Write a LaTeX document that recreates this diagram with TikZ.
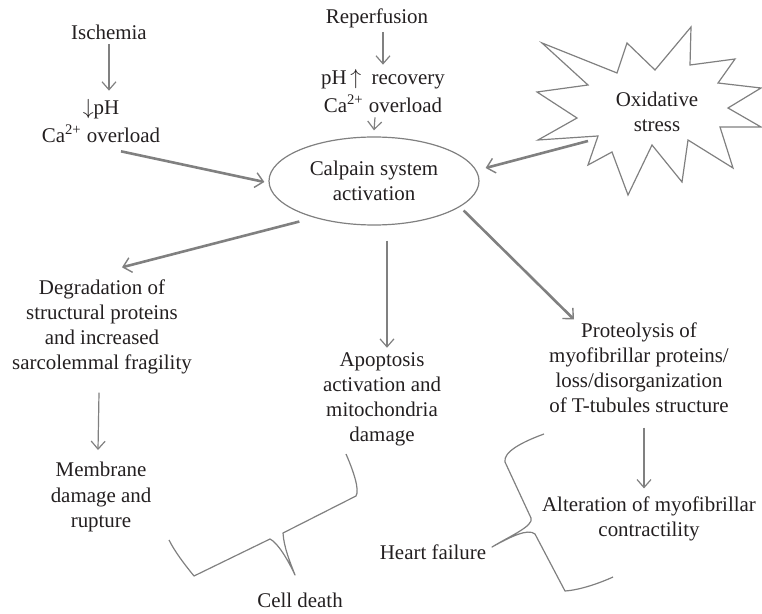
\documentclass[tikz,border=0pt]{standalone}
\usepackage{fontspec}
\setmainfont{Liberation Serif}
\usepackage{xcolor}
\usetikzlibrary{shapes.geometric,arrows.meta}
\definecolor{linegray}{RGB}{128,128,128}
\definecolor{textgray}{RGB}{35,31,32}

\begin{document}
\begin{tikzpicture}[x=0.5bp,y=-0.5bp,
  every node/.style={text=textgray,font=\fontsize{10.5}{12.6}\selectfont,align=center,inner sep=2bp},
  thinarrow/.style={draw=linegray,line width=0.6bp,-{Straight Barb[length=4bp,width=7bp]}},
  thickarrow/.style={draw=linegray,line width=1.3bp,-{Straight Barb[length=4bp,width=7.5bp,line width=0.7bp]}},
  outline/.style={draw=linegray,line width=0.6bp},
  brace/.style={draw=linegray,line width=0.6bp,line join=round}]
\useasboundingbox (0,0) rectangle (762,614);

% causes
\node (isch) at (109,32) {Ischemia};
\node (ph) at (101,121) {$\downarrow$pH\\[1.7bp]Ca\textsuperscript{2+} overload};
\node (reperf) at (377,18) {Reperfusion};
\node (rec) at (383,91) {pH\,$\uparrow$\ \ recovery\\[1.7bp]Ca\textsuperscript{2+} overload};
\draw[outline] (691,27) -- (690,65) -- (735,59) -- (718,83) -- (761,88) -- (728,108)
  -- (761,127) -- (720,127) -- (733,168) -- (688,140) -- (682,182) -- (652,145)
  -- (628,195) -- (612,152) -- (588,165) -- (598,136) -- (538,140) -- (577,118)
  -- (537,92) -- (588,85) -- (542,43) -- (617,73) -- (627,43) -- (655,70) -- cycle;
\node (oxid) at (657,112) {Oxidative\\stress};
\coordinate (oxtail) at (588,141);

% calpain
\node[ellipse,outline,minimum width=105bp,minimum height=44bp,inner sep=0pt] (calpain) at (374,181) {Calpain system\\activation};

% effects
\node (degr) at (102,327) {Degradation of\\structural proteins\\and increased\\sarcolemmal fragility};
\node (memb) at (101,497) {Membrane\\damage and\\rupture};
\node (apop) at (382,399) {Apoptosis\\activation and\\mitochondria\\damage};
\node (prot) at (639,368) {Proteolysis of\\myofibrillar proteins/\\loss/disorganization\\of T-tubules structure};
\node (alter) at (649,519) {Alteration of myofibrillar\\contractility};
\node (heart) at (433,552) {Heart failure};
\node (death) at (300,600) {Cell death};

\draw[thinarrow,shorten >=2bp] (isch) -- (isch |- ph.north);
\draw[thickarrow] ([shift={(20,4)}]ph.south) -- ([shift={(-4,1)}]calpain.west);
\draw[thinarrow] (reperf.south -| rec.north) -- (rec.north);
\draw[thinarrow] ([xshift=-4bp]rec.south) -- ([yshift=3bp]calpain.north);
\draw[thickarrow] (oxtail) -- ([shift={(6,-13)}]calpain.east);
\draw[thickarrow] ([yshift=-4.5bp]calpain.south west) -- ([shift={(20,-8)}]degr.north);
\draw[thinarrow] ([xshift=2.5bp]apop.north |- calpain.south) ++(0,15) -- ([xshift=2.5bp]apop.north);
\draw[thickarrow] ([shift={(15,-2)}]calpain.south east) -- ([shift={(-65,1)}]prot.north);
\draw[thinarrow] ([shift={(-3,14)}]degr.south) -- ([shift={(-3,-8)}]memb.north);
\draw[thinarrow] ([shift={(5,10)}]prot.south) -- ([shift={(-5,-4)}]alter.north);

% braces
\draw[brace] (346,454) .. controls (353,470) and (360,490) .. (356,496) -- (283,533)
  .. controls (284,548) and (290,562) .. (295,575) .. controls (288,560) and (278,543) .. (270,539)
  -- (194,576) .. controls (185,565) and (175,552) .. (169,540);
\draw[brace] (544,434) .. controls (522,442) and (503,452) .. (505,462) -- (531,518)
  .. controls (534,526) and (510,536) .. (492,547) .. controls (510,537) and (528,528) .. (535,534)
  -- (565,591) .. controls (580,590) and (600,583) .. (613,577);
\end{tikzpicture}
\end{document}
